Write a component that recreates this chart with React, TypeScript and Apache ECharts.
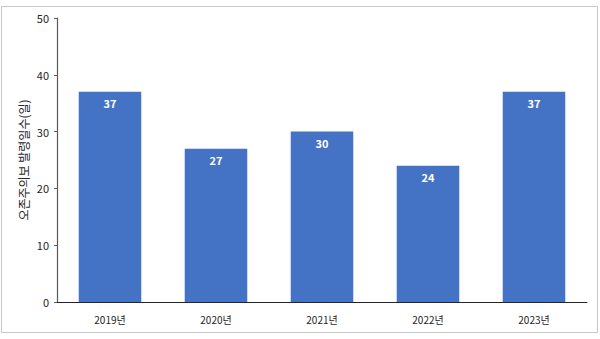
import React, { useEffect, useRef } from "react";
import * as echarts from "echarts";

const categories = ["2019년", "2020년", "2021년", "2022년", "2023년"];
const values = [37, 27, 30, 24, 37];
const yTitle = "오존주의보 발령일수(일)";

export default function App() {
  const ref = useRef<HTMLDivElement>(null);
  useEffect(() => {
    const chart = echarts.init(ref.current!, null, { renderer: "svg" });
    const font = "'Noto Sans CJK KR', 'Noto Sans', sans-serif";
    chart.setOption({
      animation: false,
      textStyle: { fontFamily: font },
      graphic: [
        {
          type: "rect",
          shape: { x: 1.5, y: 6.5, width: 596, height: 326 },
          style: { fill: "none", stroke: "#c8c8c8", lineWidth: 1 },
          silent: true,
        },
      ],
      grid: { left: 57, right: 13, top: 18, bottom: 37 },
      xAxis: {
        type: "category",
        data: categories,
        axisLine: { lineStyle: { color: "#262626", width: 1 } },
        axisTick: { show: false },
        axisLabel: { color: "#262626", fontSize: 10, margin: 12, fontFamily: font },
      },
      yAxis: {
        type: "value",
        min: 0,
        max: 50,
        interval: 10,
        name: yTitle,
        nameLocation: "middle",
        nameGap: 28,
        nameMoveOverlap: false,
        nameRotate: 90,
        nameTextStyle: { color: "#262626", fontSize: 12, fontFamily: font },
        axisLine: { show: true, lineStyle: { color: "#595959", width: 1.2 } },
        axisTick: { show: true, length: 3, lineStyle: { color: "#595959" } },
        splitLine: { show: false },
        axisLabel: { color: "#262626", fontSize: 11, margin: 8, fontFamily: font },
      },
      series: [
        {
          type: "bar",
          data: values,
          barWidth: "59%",
          itemStyle: { color: "#4472C4" },
          label: {
            show: true,
            position: "insideTop",
            distance: 6,
            color: "#ffffff",
            fontWeight: "bold",
            fontSize: 11,
            fontFamily: font,
          },
        },
      ],
    });
    return () => chart.dispose();
  }, []);
  return <div ref={ref} style={{ width: 600, height: 339, position: "absolute", left: 0, top: 0 }} />;
}
